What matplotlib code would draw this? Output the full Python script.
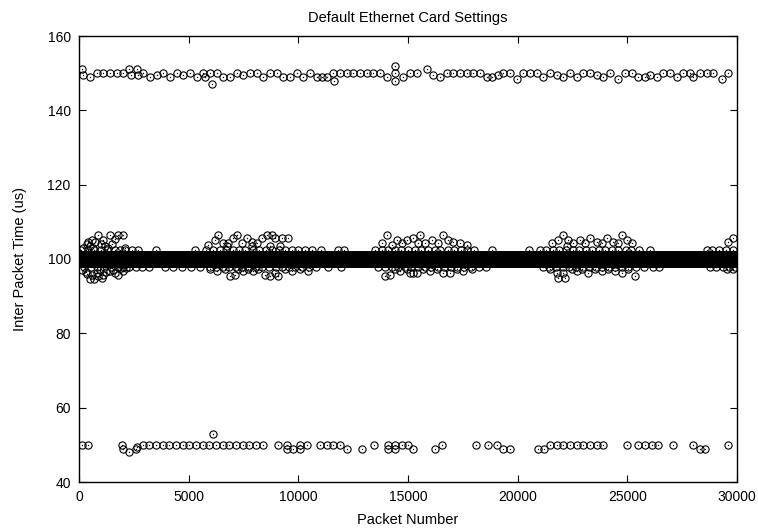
import numpy as np
import matplotlib
matplotlib.use("Agg")
import matplotlib.pyplot as plt

plt.rcParams['font.family'] = ['Liberation Sans', 'DejaVu Sans']

# ---- data ----
# row near 150 us
top_x = [122, 167, 502, 806, 1110, 1414, 1717, 2021, 2295, 2356, 2629, 2675, 2933, 3237, 3571,
         3845, 4149, 4453, 4757, 5061, 5365, 5669, 5745, 5973, 6049, 6277, 6581, 6885, 7189,
         7493, 7797, 8101, 8405, 8709, 9013, 9317, 9621, 9924, 10228, 10532, 10836, 11064,
         11292, 11596, 11626, 11900, 12204, 12508, 12812, 13116, 13420, 13724, 14028, 14408,
         14408, 14408, 14788, 15092, 15396, 15851, 16155, 16459, 16763, 17067, 17371, 17675,
         17979, 18283, 18586, 18814, 19118, 19346, 19650, 19954, 20258, 20562, 20866, 21170,
         21474, 21778, 22082, 22386, 22690, 22994, 23298, 23602, 23906, 24210, 24590, 24894,
         25199, 25503, 25807, 26033, 26337, 26641, 26945, 27249, 27553, 27857, 28009, 28313,
         28617, 28921, 29301, 29605]
top_y = [151, 149.5, 149, 150, 150, 150, 150, 150, 151, 149.5, 151, 149.5, 150, 149, 149.5,
         150, 149, 150, 149.5, 150, 149, 150, 149, 150, 147, 150, 149, 149, 150,
         149.5, 150, 150, 149, 150, 150, 149, 149, 150, 149, 150, 149, 149,
         149, 150, 148, 150, 150, 150, 150, 150, 150, 150, 149, 152,
         150, 148, 149, 150, 150, 151, 149.5, 149, 150, 150, 150, 150,
         150, 150, 149, 149, 149.5, 150, 150, 148.5, 150, 150, 150, 149,
         150, 149.5, 149, 150, 149, 150, 150, 149.5, 149, 150, 148.5, 150,
         150, 149, 149, 149.5, 149, 150, 150, 149, 150, 150, 149, 150,
         150, 150, 148.5, 150]

# row near 50 us
low_x = [122, 426, 1945, 1990, 2295, 2599, 2640, 2903, 3207, 3511, 3815, 4119, 4423, 4727, 5031,
         5335, 5639, 5943, 6095, 6247, 6551, 6855, 7159, 7463, 7767, 8071, 8405, 9089, 9469,
         9500, 9773, 10077, 10077, 10381, 10989, 11293, 11597, 11901, 12205, 12889, 13467,
         14105, 14105, 14409, 14409, 14713, 15017, 15245, 16231, 16535, 18101, 18663, 19043,
         19347, 19651, 20943, 21201, 21475, 21779, 22083, 22387, 22691, 22995, 23299, 23603,
         23907, 24971, 25503, 25807, 26111, 26415, 27099, 28011, 28315, 28543, 29606]
low_y = [50, 50, 50, 49, 48, 49, 49.5, 50, 50, 50, 50, 50, 50, 50, 50,
         50, 50, 50, 53, 50, 50, 50, 50, 50, 50, 50, 50, 50, 50,
         49, 49, 49, 50, 50, 50, 50, 50, 50, 49, 49, 50,
         50, 49, 50, 49, 50, 50, 49, 49, 50, 50, 50, 50,
         49, 49, 49, 49, 50, 50, 50, 50, 50, 50, 50, 50,
         50, 50, 50, 50, 50, 50, 50, 50, 49, 49, 50]

# scattered points around 100 us (bursts)
burst_x = [200, 350, 430, 500, 580, 650, 730, 880, 1000, 1110, 1180, 1300, 1414, 1500, 1642,
           1794, 2022, 2100,
           150, 300, 380, 500, 600, 700, 800, 882, 950, 1030, 1110, 1250, 1414, 1550, 1642,
           1794, 1900, 2022, 2150,
           5897, 6201, 6353, 6581, 6733, 6809, 7037, 7189, 7417, 7645, 7873, 7873, 8101, 8329,
           8557, 8709, 8785, 8937, 9165, 9241, 9545,
           5973, 6277, 6657, 6885, 7113, 7265, 7493, 7721, 7949, 8177, 8481, 8709, 8937, 9089,
           9393, 9697, 10077, 10456,
           13800, 14028, 14256, 14484, 14712, 14940, 15244, 15472, 15547, 15775, 16079, 16383,
           16611, 16839, 17067, 17371, 17675,
           13952, 14180, 14408, 14636, 14940, 15091, 15244, 15395, 15699, 16003, 16307, 16611,
           16915, 17219, 17523, 17903,
           21550, 21854, 22082, 22234, 22310, 22538, 22842, 23070, 23298, 23602, 23830, 24058,
           24362, 24590, 24742, 24970, 25198,
           21474, 21778, 21854, 22158, 22082, 22462, 22690, 22918, 23222, 23526, 23830, 24134,
           24438, 24742, 25046, 25350,
           29605, 29833, 29529, 29833]
burst_y = [103, 104, 104.5, 103.5, 105, 103, 104.5, 106.5, 104, 105.2, 103.5, 103, 106.5, 104,
           105.5, 106.5, 106.5, 103,
           97, 96.5, 96, 94.5, 95.8, 94.5, 96.3, 95.4, 97, 94.9, 95.8, 96.5, 96.7, 97, 96.3,
           95.8, 97.5, 96.7, 97.5,
           103.9, 105.2, 106.5, 104.3, 103.5, 104.3, 105.6, 106.5, 104.3, 105.6, 104.7, 103.5,
           104.3, 105.6, 106.5, 103.5, 106.5, 105.6, 103.5, 105.6, 105.6,
           97.2, 96.7, 97.2, 95.4, 95.8, 97.2, 96.7, 97.2, 96.7, 97.2, 95.8, 95.4, 96.3, 95.4,
           97.2, 96.7, 97.2, 96.7,
           104.3, 106.5, 103.9, 105.2, 104.3, 105.2, 105.6, 104.3, 106.5, 104.3, 105.2, 104.3,
           106.5, 105.2, 104.7, 104.3, 103.9,
           95.4, 95.8, 97.2, 96.7, 97.2, 96.3, 96.3, 96.3, 97.2, 96.7, 97.2, 96.3,
           96.3, 97.2, 96.7, 97.2,
           104.3, 105.2, 106.5, 103.5, 105.2, 104.3, 105.2, 104.3, 105.6, 104.7, 104.3, 105.6,
           104.7, 104.3, 106.5, 105.2, 104.3,
           97.2, 96.3, 94.9, 94.9, 96.3, 97.2, 96.7, 97.2, 96.3, 97.2, 96.7, 97.2,
           96.7, 96.3, 97.2, 95.4,
           104.7, 105.6, 97.2, 97.2]

# points just off the main band (102 / 98 us)
fringe_hi_x = [100, 420, 690, 1010, 1290, 1620, 1880, 2120, 2430, 2690, 3520, 5280, 5810, 6090,
               6420, 6690, 7020, 7310, 7580, 7920, 8190, 8520, 8790, 9120, 9380, 9720, 9980,
               10310, 10620, 11040, 11820, 12090, 13510, 13820, 14090, 14420, 14680, 15020,
               15310, 15580, 15920, 16210, 16480, 16820, 17090, 17420, 17680, 18020, 18810,
               20520, 21020, 21280, 21620, 21880, 22210, 22520, 22780, 23120, 23380, 23720,
               23980, 24320, 24580, 24920, 25180, 25520, 26020, 28620, 28880, 29180, 29520,
               29800]
fringe_lo_x = [240, 560, 840, 1150, 1450, 1760, 2010, 2280, 2580, 2860, 3180, 3900, 4300, 4700,
               5120, 5500, 5950, 6250, 6560, 6850, 7150, 7450, 7760, 8060, 8350, 8650, 8960,
               9250, 9560, 9850, 10150, 10480, 10820, 11350, 11950, 13620, 13950, 14250,
               14560, 14860, 15150, 15450, 15760, 16050, 16360, 16650, 16960, 17250, 17560,
               17850, 18250, 18550, 21150, 21450, 21760, 22050, 22350, 22650, 22960, 23250,
               23550, 23860, 24150, 24450, 24760, 25050, 25380, 25750, 26150, 26450, 28750,
               29050, 29350, 29650, 29900]
fringe_hi_y = [102.4] * len(fringe_hi_x)
fringe_lo_y = [97.8] * len(fringe_lo_x)

# main band: essentially every packet at ~99-101 us
band_x = np.arange(0, 30001, 30)
band_levels = [99, 100, 101]

# ---- figure ----
fig = plt.figure(figsize=(7.58, 5.29), dpi=100)
ax = fig.add_axes([79 / 758, 1 - 482 / 529, (737 - 79) / 758, (482 - 36) / 529])

mk = dict(linestyle='none', marker='o', markersize=5.2, markerfacecolor='none',
          markeredgecolor='black', markeredgewidth=0.8)
dot = dict(linestyle='none', marker='o', markersize=1.0, color='black', markeredgewidth=0)

for lv in band_levels:
    ax.plot(band_x, np.full(band_x.shape, lv), **mk)

for xs, ys in [(top_x, top_y), (low_x, low_y), (burst_x, burst_y),
               (fringe_hi_x, fringe_hi_y), (fringe_lo_x, fringe_lo_y)]:
    ax.plot(xs, ys, **mk)
    ax.plot(xs, ys, **dot)

ax.set_xlim(0, 30000)
ax.set_ylim(40, 160)
ax.set_xticks([0, 5000, 10000, 15000, 20000, 25000, 30000])
ax.set_yticks([40, 60, 80, 100, 120, 140, 160])
ax.tick_params(direction='in', top=True, right=True, length=5, width=0.8,
               labelsize=10, pad=6)
for s in ax.spines.values():
    s.set_linewidth(1.0)

ax.set_title('Default Ethernet Card Settings', fontsize=10.5, pad=10)
ax.set_xlabel('Packet Number', fontsize=10.5, labelpad=6)
ax.set_ylabel('Inter Packet Time (us)', fontsize=10.5, labelpad=15)

fig.savefig('out.png', dpi=100)
